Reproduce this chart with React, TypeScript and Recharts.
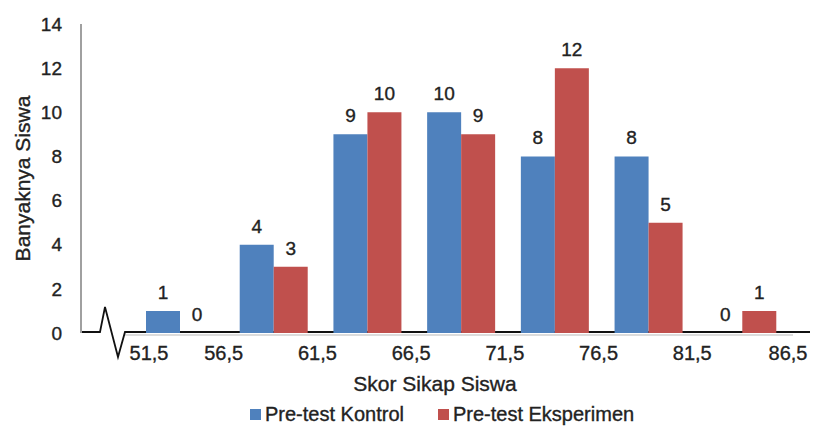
import React from 'react';
import { BarChart, Bar, XAxis, YAxis, Legend, LabelList } from 'recharts';

// Score intervals (class boundaries) and student counts per interval
const scoreBounds = ['51,5', '56,5', '61,5', '66,5', '71,5', '76,5', '81,5', '86,5'];
const intervals = ['51,5-56,5', '56,5-61,5', '61,5-66,5', '66,5-71,5', '71,5-76,5', '76,5-81,5', '81,5-86,5'];
const kontrol = [1, 4, 9, 10, 8, 8, 0];
const eksperimen = [0, 3, 10, 9, 12, 5, 1];
const yTicks = [0, 2, 4, 6, 8, 10, 12, 14];

const data = intervals.map((name, i) => ({ name, kontrol: kontrol[i], eksperimen: eksperimen[i] }));

const W = 813;
const H = 428;
const MARGIN = { top: 24, right: 24, bottom: 2, left: 0 };
const Y_AXIS_W = 81;
const X_AXIS_H = 69;
const LEGEND_H = 24;
const PLOT_LEFT = MARGIN.left + Y_AXIS_W;
const PLOT_RIGHT = W - MARGIN.right;
const PLOT_BOTTOM = H - MARGIN.bottom - LEGEND_H - X_AXIS_H;
const PAD_LEFT = 52;
const HALF_BAND = (PLOT_RIGHT - PLOT_LEFT - PAD_LEFT) / intervals.length / 2;

const BLUE = '#4F81BD';
const RED = '#C0504D';
const TEXT = '#222';
const FONT = '"Liberation Sans", Arial, sans-serif';
const textStyle = (size: number) => ({ fontSize: size, fontFamily: FONT, fill: TEXT, stroke: TEXT, strokeWidth: 0.35 });

// x-axis line with a zigzag break near the origin
const AxisBreak = () => {
  const y = PLOT_BOTTOM - 1;
  const x0 = PLOT_LEFT;
  const d = `M${x0},${y} L${x0 + 19},${y} L${x0 + 24},${y - 25} L${x0 + 37},${y + 25} L${x0 + 44},${y} L${W - 3},${y}`;
  return (
    <g>
      <line x1={x0 + 44} y1={y + 3} x2={W - 20} y2={y + 3} stroke="#dcdcdc" strokeWidth={2} />
      <path d={d} fill="none" stroke="#111" strokeWidth={1.8} />
    </g>
  );
};

// interval boundaries sit at the edges of each category band
const BoundTick = ({ x, y, payload, index }: any) => {
  const half = payload && payload.offset ? payload.offset : HALF_BAND;
  const style = textStyle(20);
  const left = x - half + (index === 0 ? 16 : -3);
  return (
    <g>
      <text x={left} y={y} dy={14} textAnchor="middle" style={style}>
        {scoreBounds[index]}
      </text>
      {index === intervals.length - 1 && (
        <text x={x + half - 1} y={y} dy={14} textAnchor="middle" style={style}>
          {scoreBounds[index + 1]}
        </text>
      )}
    </g>
  );
};

const LegendContent = () => (
  <div
    style={{
      height: LEGEND_H,
      display: 'flex',
      alignItems: 'center',
      paddingLeft: 250,
      fontFamily: FONT,
      fontSize: 20,
      color: TEXT,
      WebkitTextStroke: '0.35px #222',
      whiteSpace: 'nowrap',
    }}
  >
    <span style={{ width: 11, height: 11, background: BLUE, marginRight: 4 }} />
    <span style={{ marginRight: 34 }}>Pre-test Kontrol</span>
    <span style={{ width: 11, height: 11, background: RED, marginRight: 4 }} />
    <span>Pre-test Eksperimen</span>
  </div>
);

export default function App() {
  return (
    <div style={{ position: 'absolute', left: 0, top: 0, width: W, height: H, background: '#fff' }}>
      <BarChart width={W} height={H} data={data} margin={MARGIN} barGap={0}>
        <YAxis
          width={Y_AXIS_W}
          domain={[0, 14]}
          ticks={yTicks}
          interval={0}
          tickLine={false}
          tickSize={0}
          tickMargin={19}
          axisLine={{ stroke: '#a0a0a0', strokeWidth: 2 }}
          tick={textStyle(19)}
          label={{
            value: 'Banyaknya Siswa',
            angle: -90,
            position: 'center',
            dx: -18,
            style: textStyle(21),
          }}
        />
        <XAxis
          dataKey="name"
          padding={{ left: PAD_LEFT, right: 0 }}
          height={X_AXIS_H}
          interval={0}
          axisLine={false}
          tickLine={false}
          tickSize={0}
          tickMargin={13}
          tick={<BoundTick />}
          label={{
            value: 'Skor Sikap Siswa',
            position: 'insideBottom',
            offset: 11,
            style: textStyle(21),
          }}
        />
        <Legend verticalAlign="bottom" content={<LegendContent />} wrapperStyle={{ left: 0, width: W, bottom: MARGIN.bottom }} />
        {/* a tiny minPointSize keeps the zero-count bars (and their labels) in the layout */}
        <Bar dataKey="kontrol" name="Pre-test Kontrol" fill={BLUE} barSize={34} minPointSize={0.01} isAnimationActive={false}>
          <LabelList dataKey="kontrol" position="top" offset={12} style={textStyle(19)} />
        </Bar>
        <Bar dataKey="eksperimen" name="Pre-test Eksperimen" fill={RED} barSize={34} minPointSize={0.01} isAnimationActive={false}>
          <LabelList dataKey="eksperimen" position="top" offset={12} style={textStyle(19)} />
        </Bar>
        <AxisBreak />
      </BarChart>
    </div>
  );
}
